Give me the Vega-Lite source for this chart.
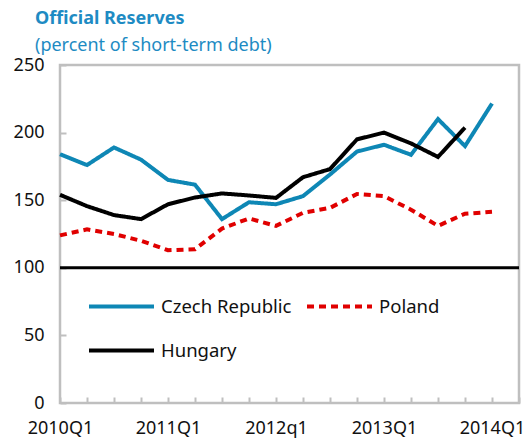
{
  "$schema": "https://vega.github.io/schema/vega-lite/v6.json",
  "width": 459,
  "height": 338,
  "autosize": {"type": "none"},
  "padding": {"left": 60, "top": 65, "right": 9, "bottom": 40},
  "background": "white",
  "config": {
    "font": "Noto Sans",
    "view": {"stroke": "#BFBFBF", "strokeWidth": 2.5},
    "axis": {"grid": false, "domain": false, "labelColor": "#111111", "labelFont": "Noto Sans", "labelFontSize": 18, "tickColor": "#BFBFBF", "tickWidth": 2}
  },
  "title": {
    "text": "Official Reserves",
    "subtitle": "(percent of short-term debt)",
    "anchor": "start",
    "frame": "group",
    "dx": -25,
    "offset": 1,
    "font": "Noto Sans",
    "fontSize": 18,
    "fontWeight": "bold",
    "color": "#1E8BC3",
    "subtitleFont": "Noto Sans",
    "subtitleFontSize": 18,
    "subtitleColor": "#1E8BC3",
    "subtitlePadding": 9
  },
  "datasets": {
    "series": [
      {"quarter": "2010Q1", "country": "Czech Republic", "value": 184},
      {"quarter": "2010Q2", "country": "Czech Republic", "value": 176},
      {"quarter": "2010Q3", "country": "Czech Republic", "value": 189},
      {"quarter": "2010Q4", "country": "Czech Republic", "value": 180},
      {"quarter": "2011Q1", "country": "Czech Republic", "value": 165},
      {"quarter": "2011Q2", "country": "Czech Republic", "value": 161.5},
      {"quarter": "2011Q3", "country": "Czech Republic", "value": 136},
      {"quarter": "2011Q4", "country": "Czech Republic", "value": 148.5},
      {"quarter": "2012q1", "country": "Czech Republic", "value": 147},
      {"quarter": "2012Q2", "country": "Czech Republic", "value": 153},
      {"quarter": "2012Q3", "country": "Czech Republic", "value": 169},
      {"quarter": "2012Q4", "country": "Czech Republic", "value": 186},
      {"quarter": "2013Q1", "country": "Czech Republic", "value": 191},
      {"quarter": "2013Q2", "country": "Czech Republic", "value": 183.6},
      {"quarter": "2013Q3", "country": "Czech Republic", "value": 210},
      {"quarter": "2013Q4", "country": "Czech Republic", "value": 190},
      {"quarter": "2014Q1", "country": "Czech Republic", "value": 221.5},
      {"quarter": "2010Q1", "country": "Poland", "value": 124},
      {"quarter": "2010Q2", "country": "Poland", "value": 128.4},
      {"quarter": "2010Q3", "country": "Poland", "value": 125},
      {"quarter": "2010Q4", "country": "Poland", "value": 120},
      {"quarter": "2011Q1", "country": "Poland", "value": 113},
      {"quarter": "2011Q2", "country": "Poland", "value": 113.7},
      {"quarter": "2011Q3", "country": "Poland", "value": 129},
      {"quarter": "2011Q4", "country": "Poland", "value": 136.5},
      {"quarter": "2012q1", "country": "Poland", "value": 131},
      {"quarter": "2012Q2", "country": "Poland", "value": 140.7},
      {"quarter": "2012Q3", "country": "Poland", "value": 144.3},
      {"quarter": "2012Q4", "country": "Poland", "value": 154.6},
      {"quarter": "2013Q1", "country": "Poland", "value": 153},
      {"quarter": "2013Q2", "country": "Poland", "value": 143},
      {"quarter": "2013Q3", "country": "Poland", "value": 131},
      {"quarter": "2013Q4", "country": "Poland", "value": 140},
      {"quarter": "2014Q1", "country": "Poland", "value": 141.4},
      {"quarter": "2010Q1", "country": "Hungary", "value": 154},
      {"quarter": "2010Q2", "country": "Hungary", "value": 145.6},
      {"quarter": "2010Q3", "country": "Hungary", "value": 139},
      {"quarter": "2010Q4", "country": "Hungary", "value": 136},
      {"quarter": "2011Q1", "country": "Hungary", "value": 147},
      {"quarter": "2011Q2", "country": "Hungary", "value": 152},
      {"quarter": "2011Q3", "country": "Hungary", "value": 155},
      {"quarter": "2011Q4", "country": "Hungary", "value": 153.5},
      {"quarter": "2012q1", "country": "Hungary", "value": 151.7},
      {"quarter": "2012Q2", "country": "Hungary", "value": 167},
      {"quarter": "2012Q3", "country": "Hungary", "value": 173},
      {"quarter": "2012Q4", "country": "Hungary", "value": 195},
      {"quarter": "2013Q1", "country": "Hungary", "value": 200},
      {"quarter": "2013Q2", "country": "Hungary", "value": 192},
      {"quarter": "2013Q3", "country": "Hungary", "value": 182},
      {"quarter": "2013Q4", "country": "Hungary", "value": 203.7}
    ],
    "reference": [{"level": 100}]
  },
  "layer": [
    {
      "data": {"name": "reference"},
      "mark": {"type": "rule", "color": "black", "strokeWidth": 3},
      "encoding": {"y": {"field": "level", "type": "quantitative", "scale": {"domain": [0, 250]}}}
    },
    {
      "data": {"name": "series"},
      "mark": {"type": "line", "strokeWidth": 4, "strokeCap": "butt", "strokeJoin": "miter"},
      "encoding": {
        "x": {
          "field": "quarter",
          "type": "ordinal",
          "sort": null,
          "scale": {"type": "point", "padding": 0, "domain": ["2010Q1","2010Q2","2010Q3","2010Q4","2011Q1","2011Q2","2011Q3","2011Q4","2012q1","2012Q2","2012Q3","2012Q4","2013Q1","2013Q2","2013Q3","2013Q4","2014Q1","2014Q2"]},
          "axis": {"title": null, "labelAngle": 0, "labelExpr": "test(/[Qq]1$/, datum.label) ? datum.label : ''", "tickSize": -6, "labelPadding": 22, "labelOverlap": false}
        },
        "y": {
          "field": "value",
          "type": "quantitative",
          "scale": {"domain": [0, 250]},
          "axis": {"title": null, "values": [0, 50, 100, 150, 200, 250], "tickSize": -6, "labelPadding": 22}
        },
        "color": {
          "field": "country",
          "type": "nominal",
          "scale": {"domain": ["Czech Republic", "Hungary", "Poland"], "range": ["#0E87B5", "#000000", "#E00000"]},
          "legend": {"title": null, "orient": "none", "legendX": 27, "legendY": 207, "columns": 2, "columnPadding": 7, "rowPadding": -40, "symbolType": "stroke", "symbolSize": 4225, "symbolStrokeWidth": 4, "labelFontSize": 18.5, "labelFont": "Noto Sans", "labelColor": "#111111", "labelOffset": 5}
        },
        "strokeDash": {
          "field": "country",
          "type": "nominal",
          "scale": {"domain": ["Czech Republic", "Hungary", "Poland"], "range": [[1, 0], [1, 0], [7, 5]]},
          "legend": {"title": null, "orient": "none", "legendX": 27, "legendY": 207, "columns": 2, "columnPadding": 7, "rowPadding": -40, "symbolType": "stroke", "symbolSize": 4225, "symbolStrokeWidth": 4, "labelFontSize": 18.5, "labelFont": "Noto Sans", "labelColor": "#111111", "labelOffset": 5}
        }
      }
    }
  ]
}
